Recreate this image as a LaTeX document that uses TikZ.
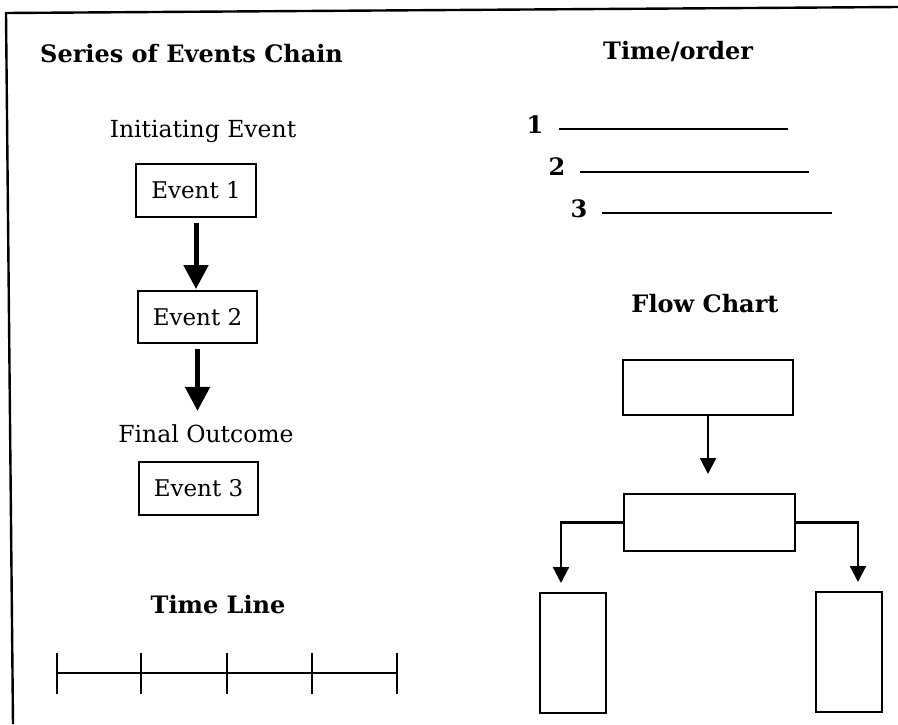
\documentclass[tikz,border=0pt]{standalone}
\usepackage{fontspec}
\setmainfont{DejaVu Serif}
\usetikzlibrary{arrows.meta}
\begin{document}
\begin{tikzpicture}[x=1pt,y=-1pt,
  head/.style={font=\fontsize{24}{28}\selectfont\bfseries, inner sep=0pt},
  lbl/.style={font=\fontsize{23.5}{28}\selectfont, inner sep=0pt},
  evbox/.style={draw, line width=1.8pt, minimum width=120pt, minimum height=53pt, inner sep=0pt, font=\fontsize{23}{27}\selectfont},
  fcbox/.style={draw, line width=2pt, inner sep=0pt},
  bigarrow/.style={line width=5pt, -{Triangle[width=24pt,length=24pt]}},
  fcarrow/.style={line width=2.2pt, -{Triangle[width=16pt,length=16pt]}},
  rule/.style={line width=2.2pt},
  framerule/.style={line width=2.4pt}
  ]
\useasboundingbox (0,0) rectangle (898,724);
% frame
\coordinate (fa) at (6,13);
\coordinate (fb) at (898,7);
\coordinate (fc) at (13,724);
\draw[framerule] (fb) -- (fa) -- (fc);

% Series of Events Chain
\node[head, anchor=base west] (h1) at (40,62) {Series of Events Chain};
\node[lbl, anchor=base] (init) at (203,137) {Initiating Event};
\node[evbox] (e1) at (196,190.5) {Event 1};
\node[evbox, minimum width=119pt, minimum height=52pt] (e2) at (197.5,317) {Event 2};
\node[lbl, anchor=base] (final) at (206,442) {Final Outcome};
\node[evbox, minimum width=119pt] (e3) at (198.5,488.5) {Event 3};
\draw[bigarrow, shorten <=5pt, shorten >=1pt] (e1.south) -- (e1.south |- e2.north);
\draw[bigarrow, shorten <=5pt, shorten >=13pt] (e2.south) -- (e2.south |- final.north);

% Time Line
\node[head, anchor=base] (tl) at (218,613) {Time Line};
\coordinate (t0) at (57,673);
\coordinate (t1) at (141,673);
\coordinate (t2) at (227,673);
\coordinate (t3) at (312,673);
\coordinate (t4) at (397,673);
\draw[rule] (t0) -- (t4);
\foreach \t in {t0,t1,t2,t3,t4}
  \draw[rule] ([yshift=20.5pt]\t) -- ([yshift=-20.5pt]\t);

% Time/order
\node[head, anchor=base west] (h2) at (603,59) {Time/order};
\node[head, anchor=base] (n1) at (535,133) {1};
\node[head, anchor=base] (n2) at (557,175) {2};
\node[head, anchor=base] (n3) at (579,217) {3};
\coordinate (a1) at (559,129); \coordinate (b1) at (788,129);
\coordinate (a2) at (580,172); \coordinate (b2) at (809,172);
\coordinate (a3) at (602,213); \coordinate (b3) at (832,213);
\draw[rule] (a1) -- (b1);
\draw[rule] (a2) -- (b2);
\draw[rule] (a3) -- (b3);

% Flow Chart
\node[head, anchor=base] (fch) at (705,312) {Flow Chart};
\node[fcbox, minimum width=170pt, minimum height=55pt] (f1) at (708,387.5) {};
\node[fcbox, minimum width=171pt, minimum height=57pt] (f2) at (709.5,522.5) {};
\node[fcbox, minimum width=66pt, minimum height=120pt] (f3) at (573,653) {};
\node[fcbox, minimum width=66pt, minimum height=120pt] (f4) at (849,652) {};
\coordinate (cl) at (561,583);
\coordinate (cr) at (858,582);
\draw[fcarrow, shorten >=19pt] (f1.south) -- (f1.south |- f2.north);
\draw[fcarrow] (f2.west) -| (cl);
\draw[fcarrow] (f2.east) -| (cr);
\end{tikzpicture}
\end{document}
